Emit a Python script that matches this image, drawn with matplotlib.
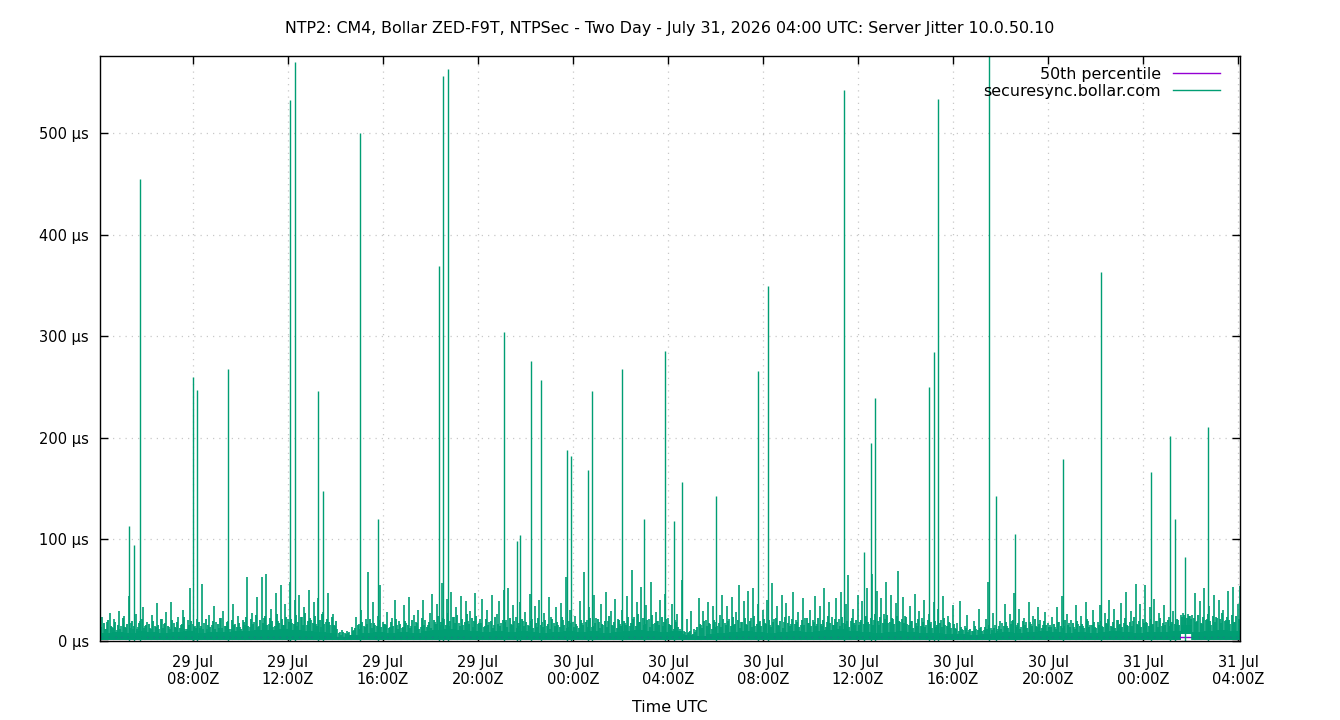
import numpy as np
import pandas as pd
import matplotlib
matplotlib.use("Agg")
import matplotlib.pyplot as plt
import matplotlib.dates as mdates
from matplotlib.lines import Line2D

# chart text
title = "NTP2: CM4, Bollar ZED-F9T, NTPSec - Two Day - July 31, 2026 04:00 UTC: Server Jitter 10.0.50.10"
series_name = "securesync.bollar.com"
pct_name = "50th percentile"

t_start = "2026-07-29 04:05"
t_end = "2026-07-31 04:05"

# dense core of the jitter trace, 30 minute blocks (µs)
band_step = "30min"
band_lo_us = [
    1, 1, 1, 1, 1, 1, 1, 1, 1, 1,
    1, 1, 1, 1, 1, 1, 1, 1, 1, 1,
    1, 1, 1, 1, 1, 1, 1, 1, 1, 1,
    1, 1, 1, 1, 1, 1, 1, 1, 1, 1,
    1, 1, 1, 1, 1, 1, 1, 1, 1, 1,
    1, 1, 1, 1, 1, 1, 1, 1, 1, 1,
    1, 1, 1, 1, 1, 1, 1, 1, 1, 1,
    1, 1, 1, 1, 1, 1, 1, 1, 1, 1,
    1, 1, 1, 1, 1, 1, 1, 1, 1, 1,
    1, 7, 1, 1, 1, 1, 1,
]
band_hi_us = [
    8, 9, 8, 10, 9, 8, 9, 10, 8, 9,
    9, 10, 10, 11, 11, 12, 11, 10, 9, 8,
    4, 6, 8, 9, 8, 9, 8, 10, 11, 12,
    11, 10, 9, 10, 9, 10, 9, 8, 9, 10,
    9, 10, 8, 9, 10, 11, 10, 9, 10, 6,
    5, 7, 8, 9, 10, 9, 8, 9, 10, 9,
    10, 11, 12, 10, 9, 8, 9, 10, 9, 8,
    8, 7, 7, 6, 7, 8, 9, 8, 9, 10,
    9, 8, 9, 8, 9, 10, 9, 8, 9, 9,
    10, 16, 9, 10, 11, 10, 10,
]

# highest reading in each 6 minute slot (µs), one row = two hours
peak_step = "6min"
peak_us = [
    16, 24, 12, 19, 28, 14, 22, 11, 30, 15, 25, 13, 44, 18, 12, 27, 14, 20, 33, 15,
    19, 13, 26, 15, 37, 12, 22, 17, 29, 14, 38, 18, 13, 24, 16, 31, 12, 21, 52, 17,
    15, 22, 13, 56, 18, 12, 26, 16, 34, 19, 13, 23, 30, 15, 20, 12, 36, 17, 25, 14,
    21, 16, 63, 14, 28, 19, 43, 15, 63, 23, 66, 17, 32, 14, 47, 20, 55, 16, 36, 22,
    58, 18, 40, 15, 45, 24, 33, 16, 50, 21, 38, 17, 42, 14, 29, 19, 47, 16, 27, 15,
    12, 9, 11, 8, 10, 9, 14, 11, 24, 17, 31, 15, 22, 68, 18, 38, 16, 25, 55, 19,
    17, 29, 14, 23, 40, 16, 20, 13, 35, 18, 43, 15, 26, 19, 31, 14, 40, 21, 16, 28,
    46, 19, 36, 16, 57, 22, 41, 15, 48, 24, 33, 18, 44, 16, 39, 20, 30, 14, 47, 17,
    22, 41, 15, 31, 19, 45, 16, 27, 39, 18, 50, 21, 52, 17, 35, 24, 15, 38, 20, 29,
    16, 46, 22, 34, 14, 40, 19, 28, 15, 43, 24, 18, 33, 16, 37, 21, 63, 14, 31, 19,
    25, 15, 39, 18, 68, 21, 33, 14, 45, 23, 19, 36, 16, 48, 20, 30, 15, 41, 22, 17,
    31, 18, 44, 15, 70, 24, 38, 19, 53, 16, 35, 22, 58, 17, 29, 20, 40, 15, 46, 23,
    16, 36, 21, 27, 12, 60, 10, 22, 9, 30, 12, 11, 42, 16, 30, 21, 38, 17, 34, 19,
    15, 26, 45, 18, 34, 22, 43, 16, 29, 55, 19, 39, 17, 49, 23, 52, 15, 36, 20, 31,
    18, 40, 16, 57, 22, 34, 15, 45, 19, 37, 25, 17, 48, 21, 29, 16, 42, 23, 18, 31,
    21, 44, 17, 34, 15, 52, 19, 38, 24, 16, 42, 22, 48, 18, 36, 65, 20, 32, 16, 45,
    19, 39, 24, 52, 17, 66, 21, 49, 16, 42, 27, 58, 18, 45, 22, 37, 69, 19, 43, 25,
    17, 34, 20, 46, 15, 30, 23, 40, 16, 27, 19, 38, 14, 32, 21, 44, 16, 25, 18, 35,
    13, 18, 39, 12, 15, 26, 11, 10, 20, 12, 32, 14, 11, 22, 58, 13, 28, 16, 12, 20,
    18, 36, 15, 27, 20, 47, 16, 32, 14, 23, 19, 38, 17, 25, 15, 33, 21, 16, 29, 18,
    16, 24, 14, 33, 19, 44, 15, 27, 18, 21, 14, 35, 17, 25, 15, 38, 20, 16, 31, 14,
    19, 35, 15, 28, 17, 40, 14, 32, 21, 16, 37, 18, 48, 15, 30, 20, 56, 16, 36, 22,
    55, 18, 33, 16, 41, 20, 28, 15, 35, 19, 24, 17, 30, 16, 21, 26, 28, 24, 27, 25,
    26, 47, 20, 39, 17, 52, 22, 34, 16, 45, 24, 40, 18, 31, 21, 49, 17, 53, 19, 36,
    54,
]

# second-highest reading, slots shifted by 3 minutes (µs)
mid_start = "2026-07-29 04:08"
mid_us = [
    14, 18, 12, 21, 15, 13, 19, 16, 12, 23, 14, 17, 13, 20, 15, 12, 18, 22, 13, 16,
    17, 12, 20, 14, 16, 22, 13, 18, 15, 12, 21, 14, 19, 13, 17, 24, 12, 16, 20, 14,
    13, 19, 15, 12, 22, 16, 14, 20, 12, 17, 23, 13, 15, 19, 12, 21, 16, 14, 18, 12,
    19, 24, 15, 22, 17, 26, 14, 21, 18, 25, 16, 23, 20, 15, 27, 18, 22, 16, 24, 19,
    22, 17, 26, 19, 24, 16, 28, 20, 23, 18, 25, 15, 21, 27, 17, 22, 19, 24, 16, 20,
    8, 6, 9, 7, 8, 6, 10, 13, 16, 12, 19, 14, 17, 22, 13, 18, 15, 21, 14, 17,
    16, 13, 19, 15, 22, 12, 17, 14, 20, 16, 13, 21, 15, 18, 12, 23, 16, 14, 19, 13,
    21, 17, 25, 19, 23, 16, 28, 20, 24, 18, 26, 15, 22, 19, 27, 17, 23, 20, 25, 18,
    18, 14, 22, 16, 20, 13, 24, 17, 15, 21, 19, 14, 23, 16, 20, 13, 18, 22, 15, 19,
    15, 20, 13, 18, 23, 16, 14, 21, 17, 12, 22, 15, 19, 14, 24, 16, 13, 20, 18, 14,
    17, 13, 21, 16, 19, 14, 23, 15, 18, 22, 13, 17, 20, 14, 25, 16, 19, 13, 21, 15,
    20, 16, 24, 18, 22, 15, 27, 19, 23, 17, 21, 14, 26, 18, 20, 16, 24, 19, 22, 17,
    16, 12, 19, 14, 8, 7, 9, 8, 10, 7, 9, 14, 17, 13, 20, 15, 18, 12, 21, 14,
    18, 14, 22, 16, 20, 15, 24, 17, 21, 13, 19, 23, 16, 20, 14, 25, 17, 19, 15, 22,
    17, 21, 14, 19, 23, 16, 20, 13, 24, 18, 15, 22, 17, 19, 14, 21, 16, 23, 18, 15,
    19, 15, 23, 17, 21, 14, 25, 18, 16, 22, 19, 15, 24, 17, 20, 14, 23, 18, 21, 16,
    21, 17, 25, 19, 23, 16, 27, 20, 24, 18, 22, 26, 19, 23, 17, 25, 20, 22, 18, 24,
    16, 20, 13, 18, 22, 15, 19, 14, 21, 17, 13, 20, 16, 18, 14, 23, 15, 19, 13, 17,
    12, 10, 14, 11, 13, 9, 12, 10, 15, 11, 13, 10, 14, 12, 16, 11, 13, 10, 15, 12,
    15, 19, 13, 17, 21, 14, 18, 12, 20, 16, 13, 19, 15, 22, 14, 17, 13, 20, 16, 14,
    14, 17, 12, 19, 15, 13, 21, 16, 14, 18, 12, 20, 15, 17, 13, 22, 14, 16, 19, 13,
    16, 20, 14, 18, 22, 15, 19, 13, 21, 17, 14, 23, 16, 19, 15, 24, 17, 20, 14, 18,
    19, 15, 22, 17, 20, 14, 23, 18, 16, 21, 15, 19, 17, 22, 16, 24, 26, 23, 25, 22,
    23, 19, 26, 18, 24, 21, 27, 20, 25, 19, 23, 22, 28, 20, 24, 21, 26, 19, 25, 22,
]

# tall single-sample spikes
spike_times = [
    "2026-07-29 05:19", "2026-07-29 05:30", "2026-07-29 05:46", "2026-07-29 07:59",
    "2026-07-29 08:09", "2026-07-29 09:28", "2026-07-29 12:05", "2026-07-29 12:18",
    "2026-07-29 13:15", "2026-07-29 13:28", "2026-07-29 15:03", "2026-07-29 15:47",
    "2026-07-29 18:21", "2026-07-29 18:32", "2026-07-29 18:43", "2026-07-29 21:05",
    "2026-07-29 21:38", "2026-07-29 21:45", "2026-07-29 22:13", "2026-07-29 22:38",
    "2026-07-29 23:44", "2026-07-29 23:55", "2026-07-30 00:38", "2026-07-30 00:49",
    "2026-07-30 02:03", "2026-07-30 02:59", "2026-07-30 03:53", "2026-07-30 04:14",
    "2026-07-30 04:35", "2026-07-30 06:01", "2026-07-30 07:47", "2026-07-30 08:12",
    "2026-07-30 11:24", "2026-07-30 12:16", "2026-07-30 12:32", "2026-07-30 12:44",
    "2026-07-30 14:59", "2026-07-30 15:11", "2026-07-30 15:22", "2026-07-30 17:31",
    "2026-07-30 17:48", "2026-07-30 18:37", "2026-07-30 20:39", "2026-07-30 22:15",
    "2026-07-31 00:21", "2026-07-31 01:09", "2026-07-31 01:20", "2026-07-31 01:45",
    "2026-07-31 02:43",
]
spike_us = [
    113, 95, 455, 260,
    247, 268, 533, 570,
    246, 148, 500, 120,
    369, 556, 563, 304,
    98, 104, 276, 257,
    188, 182, 168, 246,
    268, 120, 286, 118,
    157, 143, 266, 350,
    543, 88, 195, 239,
    250, 285, 534, 640,
    143, 105, 179, 363,
    166, 202, 120, 83,
    211,
]

p50_us = 4.4

green = "#009e73"
purple = "#9400d3"

band_times = pd.date_range(t_start, periods=len(band_hi_us), freq=band_step)
peak_times = pd.date_range(t_start, periods=len(peak_us), freq=peak_step)
mid_times = pd.date_range(mid_start, periods=len(mid_us), freq=peak_step)
spike_idx = pd.to_datetime(spike_times)

band_lo = pd.Series(band_lo_us, index=band_times, dtype=float)
peak_lo = band_lo.reindex(peak_times, method="ffill")
mid_lo = band_lo.reindex(mid_times, method="ffill")

plt.rcParams["font.family"] = ["DejaVu Sans"]

fig = plt.figure(figsize=(13.4, 7.2), dpi=100)
ax = fig.add_axes([100 / 1340, 79 / 720, 1140 / 1340, 585 / 720])

ax.plot(band_times, [p50_us] * len(band_times), color=purple, lw=1.0)
ax.fill_between(band_times, band_lo_us, band_hi_us, step="post",
                color=green, lw=0)
ax.vlines(mid_times, mid_lo.values, mid_us, color=green, lw=1.3)
ax.vlines(peak_times, peak_lo.values, peak_us, color=green, lw=1.2)
ax.vlines(spike_idx, 0, spike_us, color=green, lw=1.0)

ax.set_xlim(pd.Timestamp(t_start), pd.Timestamp(t_end))
ax.set_ylim(0, 576)

ax.xaxis.set_major_locator(mdates.HourLocator(byhour=range(0, 24, 4)))
ax.xaxis.set_major_formatter(mdates.DateFormatter("%d %b\n%H:%MZ"))
yt = [0, 100, 200, 300, 400, 500]
ax.set_yticks(yt)
ax.set_yticklabels(["%d µs" % v for v in yt])

ax.tick_params(direction="in", length=6, width=1, top=True, right=True,
               labelsize=10.5, colors="black")
ax.tick_params(axis="y", pad=8)
ax.tick_params(axis="x", pad=10)
for lab in ax.get_xticklabels():
    lab.set_horizontalalignment("center")

ax.grid(True, color="#c8c8c8", linestyle=(0, (1, 4)), linewidth=0.9)
ax.set_axisbelow(True)
for sp in ax.spines.values():
    sp.set_color("black")
    sp.set_linewidth(1.0)

ax.set_xlabel("Time UTC", fontsize=11.4, labelpad=9)
fig.text(0.5, 1 - 28 / 720, title, ha="center", va="center", fontsize=11.4)

handles = [Line2D([], [], color=purple, lw=1.0), Line2D([], [], color=green, lw=1.0)]
ax.legend(handles, [pct_name, series_name], loc="upper right",
          bbox_to_anchor=(0.9825, 0.982), frameon=False,
          markerfirst=False, handlelength=3.0, handletextpad=0.75,
          labelspacing=0.15, borderaxespad=0, borderpad=0, fontsize=11.4)

fig.savefig("out.png", dpi=100)
